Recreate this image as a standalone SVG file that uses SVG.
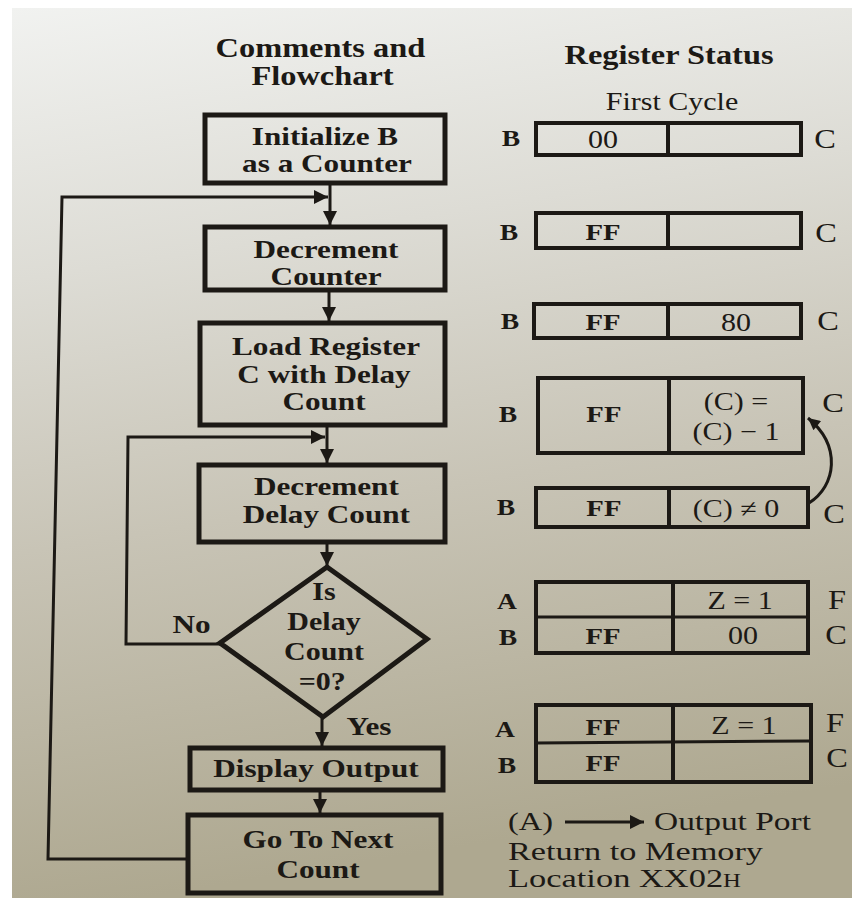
<svg xmlns="http://www.w3.org/2000/svg" width="852" height="898" viewBox="0 0 852 898">
<defs>
<linearGradient id="bg" x1="0" y1="0" x2="0.15" y2="1">
<stop offset="0" stop-color="#f1f2f0"/>
<stop offset="0.3" stop-color="#dddcd5"/>
<stop offset="0.6" stop-color="#c8c4b6"/>
<stop offset="1" stop-color="#aea890"/>
</linearGradient>
<marker id="ah" viewBox="0 0 10 10" refX="10" refY="5" markerWidth="22" markerHeight="14" markerUnits="userSpaceOnUse" orient="auto">
<path d="M0,0 L10,5 L0,10 z" fill="#1c1915"/>
</marker>
<marker id="ahs" viewBox="0 0 10 10" refX="10" refY="5" markerWidth="18" markerHeight="12" markerUnits="userSpaceOnUse" orient="auto">
<path d="M0,0 L10,5 L0,10 z" fill="#1c1915"/>
</marker>
</defs>
<style>
.bx{fill:none;stroke:#1c1915;stroke-width:5}
.rg{fill:none;stroke:#1c1915;stroke-width:4}
.ln{fill:none;stroke:#1c1915;stroke-width:3}
.thin{fill:none;stroke:#1c1915;stroke-width:3}
text{font-family:"Liberation Serif","Times New Roman",serif;fill:#1c1915;text-anchor:middle}
.s{transform:scale(1.2,1);transform-origin:0 0;transform-box:view-box}
.b{font-weight:bold;font-size:26px}
.d{font-weight:bold;font-size:25px}
.h{font-weight:bold;font-size:27px}
.r{font-size:25px}
.v{font-size:25px}
.vb{font-size:24px;font-weight:bold}
.lb{font-size:23px;font-weight:bold}
.lc{font-size:27px}
.ft{font-size:25px;text-anchor:start}
</style>
<rect x="0" y="0" width="852" height="898" fill="#ffffff"/>
<rect x="12" y="8" width="840" height="890" fill="url(#bg)"/>

<g id="headings">
<text class="s h" x="267" y="57">Comments and</text>
<text class="s h" x="268.75" y="85">Flowchart</text>
<text class="s h" x="557.5" y="64">Register Status</text>
<text class="s r" x="560" y="110">First Cycle</text>
</g>

<g id="connectors">
<line class="ln" x1="330" y1="183" x2="330" y2="225" marker-end="url(#ah)"/>
<line class="ln" x1="329" y1="290" x2="329" y2="321" marker-end="url(#ah)"/>
<line class="ln" x1="327" y1="425" x2="327" y2="463" marker-end="url(#ah)"/>
<line class="ln" x1="327" y1="542" x2="327" y2="566" marker-end="url(#ah)"/>
<line class="ln" x1="322" y1="717" x2="322" y2="746" marker-end="url(#ah)"/>
<line class="ln" x1="320" y1="790" x2="320" y2="813" marker-end="url(#ah)"/>
<polyline class="ln" points="188,859 48,859 62,197 328,197" marker-end="url(#ah)"/>
<polyline class="ln" points="220,644 126,644 128,437 325,437" marker-end="url(#ah)"/>
<path class="ln" d="M809,503 C836,486 842,446 808,418" marker-end="url(#ahs)"/>
<line class="ln" x1="565" y1="822" x2="644" y2="822" marker-end="url(#ah)"/>
</g>

<g id="n-init">
<rect class="bx" x="205" y="115" width="240" height="68"/>
<text class="s b" x="270.8" y="145">Initialize B</text>
<text class="s b" x="272.5" y="172">as a Counter</text>
</g>
<g id="n-deccounter">
<rect class="bx" x="205" y="227" width="240" height="63"/>
<text class="s b" x="271.7" y="258">Decrement</text>
<text class="s b" x="271.7" y="285">Counter</text>
</g>
<g id="n-load">
<rect class="bx" x="200" y="323" width="245" height="102"/>
<text class="s b" x="271.7" y="355">Load Register</text>
<text class="s b" x="270" y="383">C with Delay</text>
<text class="s b" x="270" y="410">Count</text>
</g>
<g id="n-decdelay">
<rect class="bx" x="199" y="465" width="246" height="77"/>
<text class="s b" x="272" y="495">Decrement</text>
<text class="s b" x="272" y="523">Delay Count</text>
</g>
<g id="n-decision">
<polygon class="bx" points="327,567 427,639 323,717 220,643"/>
<text class="s d" x="270" y="600">Is</text>
<text class="s d" x="270" y="630">Delay</text>
<text class="s d" x="270" y="660">Count</text>
<text class="s d" x="268.5" y="690">=0?</text>
<text class="s b" x="159.6" y="633">No</text>
<text class="s b" x="307.5" y="735">Yes</text>
</g>
<g id="n-display">
<rect class="bx" x="190" y="748" width="253" height="42"/>
<text class="s b" x="263.3" y="777">Display Output</text>
</g>
<g id="n-next">
<rect class="bx" x="188" y="815" width="253" height="78"/>
<text class="s b" x="265" y="848">Go To Next</text>
<text class="s b" x="265" y="878">Count</text>
</g>

<g id="reg1">
<rect class="rg" x="536" y="123" width="265" height="32"/>
<line class="rg" x1="668" y1="123" x2="668" y2="155"/>
<text class="s lb" x="425.8" y="146">B</text>
<text class="s lc" x="687.5" y="148">C</text>
<text class="s v" x="502.5" y="148">00</text>
</g>
<g id="reg2">
<rect class="rg" x="536" y="213" width="265" height="35"/>
<line class="rg" x1="668" y1="213" x2="668" y2="248"/>
<text class="s lb" x="424.2" y="240">B</text>
<text class="s lc" x="688.3" y="242">C</text>
<text class="s vb" x="502.5" y="240">FF</text>
</g>
<g id="reg3">
<rect class="rg" x="534" y="304" width="267" height="34"/>
<line class="rg" x1="668" y1="304" x2="668" y2="338"/>
<text class="s lb" x="425" y="329">B</text>
<text class="s lc" x="690" y="330">C</text>
<text class="s vb" x="502.5" y="330">FF</text>
<text class="s v" x="613.3" y="331">80</text>
</g>
<g id="reg4">
<rect class="rg" x="538" y="378" width="265" height="75"/>
<line class="rg" x1="669" y1="378" x2="669" y2="453"/>
<text class="s lb" x="423.3" y="422">B</text>
<text class="s lc" x="694.2" y="412">C</text>
<text class="s vb" x="503.3" y="422">FF</text>
<text class="s v" x="613.3" y="410">(C) =</text>
<text class="s v" x="613.3" y="440">(C) − 1</text>
</g>
<g id="reg5">
<rect class="rg" x="536" y="488" width="272" height="39"/>
<line class="rg" x1="669" y1="488" x2="669" y2="527"/>
<text class="s lb" x="421.7" y="515">B</text>
<text class="s lc" x="695" y="523">C</text>
<text class="s vb" x="503.3" y="516">FF</text>
<text class="s v" x="613.3" y="517">(C) ≠ 0</text>
</g>
<g id="reg6">
<rect class="rg" x="536" y="582" width="272" height="71"/>
<line class="thin" x1="536" y1="617" x2="808" y2="617"/>
<line class="rg" x1="673" y1="582" x2="673" y2="653"/>
<text class="s lb" x="422.5" y="609">A</text>
<text class="s lc" x="697.5" y="609">F</text>
<text class="s lb" x="423.3" y="645">B</text>
<text class="s lc" x="696.7" y="644">C</text>
<text class="s v" x="616.7" y="609">Z = 1</text>
<text class="s vb" x="502.5" y="644">FF</text>
<text class="s v" x="619.2" y="644">00</text>
</g>
<g id="reg7">
<rect class="rg" x="536" y="705" width="275" height="77"/>
<line class="thin" x1="536" y1="743" x2="811" y2="741"/>
<line class="rg" x1="673" y1="705" x2="673" y2="782"/>
<text class="s lb" x="420.8" y="737">A</text>
<text class="s lc" x="695.8" y="732">F</text>
<text class="s lb" x="422.5" y="773">B</text>
<text class="s lc" x="697.5" y="767">C</text>
<text class="s vb" x="502.5" y="735">FF</text>
<text class="s v" x="620" y="734">Z = 1</text>
<text class="s vb" x="502.5" y="771">FF</text>
</g>

<g id="notes">
<text class="ft" x="508" y="830" textLength="45" lengthAdjust="spacingAndGlyphs">(A)</text>
<text class="ft" x="654" y="830" textLength="157" lengthAdjust="spacingAndGlyphs">Output Port</text>
<text class="ft" x="508" y="860" textLength="255" lengthAdjust="spacingAndGlyphs">Return to Memory</text>
<text class="ft" x="508" y="887" textLength="233" lengthAdjust="spacingAndGlyphs">Location XX02<tspan font-size="18">H</tspan></text>
</g>
</svg>
